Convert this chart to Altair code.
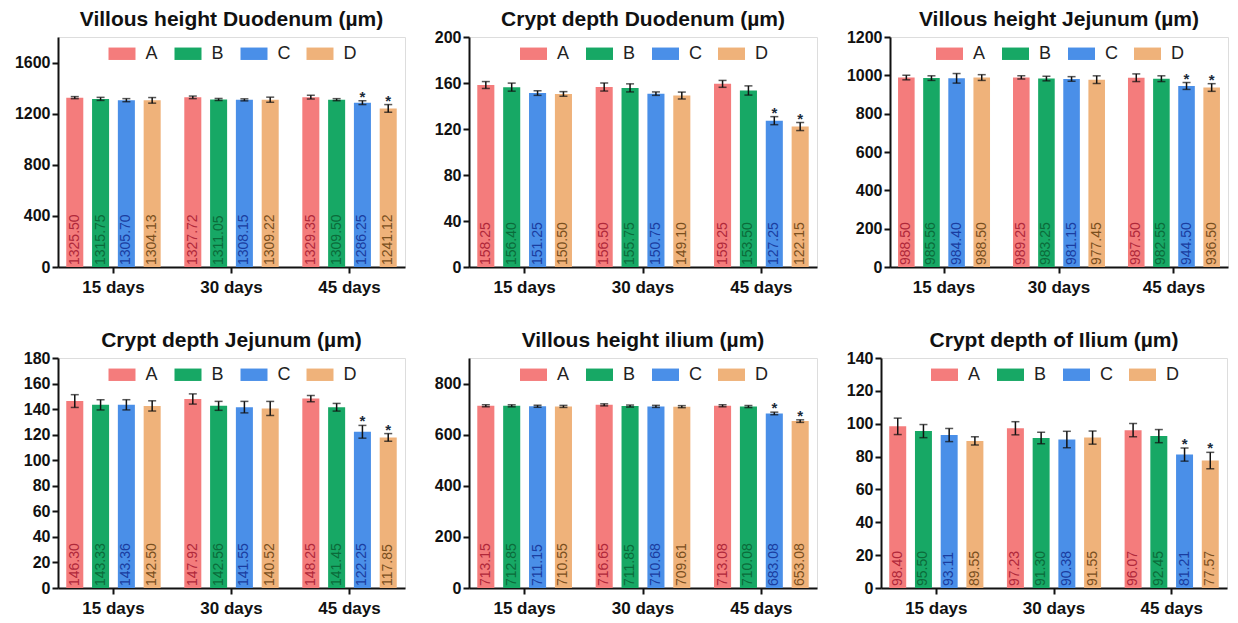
import altair as alt
import pandas as pd

days = ["15 days", "30 days", "45 days"]
groups = ["A", "B", "C", "D"]
bar_colors = ["#f47c7c", "#17a865", "#4a8fe8", "#efb27a"]
text_colors = ["#b0283a", "#0b6b3a", "#1a3da0", "#7a4f1e"]

titles = [
    "Villous height Duodenum (µm)",
    "Crypt depth Duodenum (µm)",
    "Villous height Jejunum (µm)",
    "Crypt depth Jejunum (µm)",
    "Villous height ilium (µm)",
    "Crypt depth of Ilium (µm)",
]

# means, ordered day-major: 15d A,B,C,D / 30d A,B,C,D / 45d A,B,C,D
means_vh_duo = [1325.50, 1315.75, 1305.70, 1304.13, 1327.72, 1311.05, 1308.15, 1309.22, 1329.35, 1309.50, 1286.25, 1241.12]
means_cd_duo = [158.25, 156.40, 151.25, 150.50, 156.50, 155.75, 150.75, 149.10, 159.25, 153.50, 127.25, 122.15]
means_vh_jej = [988.50, 985.56, 984.40, 988.50, 989.25, 983.25, 981.15, 977.45, 987.50, 982.55, 944.50, 936.50]
means_cd_jej = [146.30, 143.33, 143.36, 142.50, 147.92, 142.56, 141.55, 140.52, 148.25, 141.45, 122.25, 117.85]
means_vh_ile = [713.15, 712.85, 711.15, 710.55, 716.65, 711.85, 710.68, 709.61, 713.08, 710.08, 683.08, 653.08]
means_cd_ile = [98.40, 95.50, 93.11, 89.55, 97.23, 91.30, 90.38, 91.55, 96.07, 92.45, 81.21, 77.57]

errs_vh_duo = [8, 12, 12, 22, 10, 8, 8, 20, 15, 8, 15, 30]
errs_cd_duo = [3, 3.5, 2, 2, 3.5, 3.5, 1.5, 3, 3, 4, 3.5, 3.5]
errs_vh_jej = [12, 12, 25, 15, 8, 12, 12, 20, 20, 15, 18, 20]
errs_cd_jej = [5, 4, 4, 4, 4, 3.5, 4.5, 5.5, 2.5, 3, 5, 3]
errs_vh_ile = [4, 4, 4, 4, 4, 4, 4, 4, 4, 4, 5, 5]
errs_cd_ile = [5, 4, 4, 2.5, 4, 3.5, 5, 4, 4, 4, 4, 5]

significant = [False] * 10 + [True, True]

y_max = [1800, 200, 1200, 180, 900, 140]
y_ticks = [
    [0, 400, 800, 1200, 1600],
    [0, 40, 80, 120, 160, 200],
    [0, 200, 400, 600, 800, 1000, 1200],
    [0, 20, 40, 60, 80, 100, 120, 140, 160, 180],
    [0, 200, 400, 600, 800],
    [0, 20, 40, 60, 80, 100, 120, 140],
]
widths = [347, 348, 338, 347, 348, 346]

all_means = [means_vh_duo, means_cd_duo, means_vh_jej, means_cd_jej, means_vh_ile, means_cd_ile]
all_errs = [errs_vh_duo, errs_cd_duo, errs_vh_jej, errs_cd_jej, errs_vh_ile, errs_cd_ile]

FONT = "Liberation Sans"
H = 230


def panel(i):
    rows = []
    k = 0
    for d in days:
        for gi, g in enumerate(groups):
            m = all_means[i][k]
            e = all_errs[i][k]
            rows.append({
                "day": d, "group": g, "mean": m, "lo": m - e, "hi": m + e,
                "label": f"{m:.2f}", "tcolor": text_colors[gi], "base": 0,
                "sig": significant[k], "star": "*",
            })
            k += 1
    df = pd.DataFrame(rows)
    W = widths[i]
    yscale = alt.Scale(domain=[0, y_max[i]], nice=False, zero=True)
    yaxis = alt.Axis(values=y_ticks[i], tickCount=len(y_ticks[i]), format="d",
                     labelOverlap=False, title=None,
                     labelFontSize=16, labelFontWeight="bold",
                     labelColor="#111", labelFont=FONT, tickSize=6, tickWidth=2,
                     tickColor="#111", domainColor="#111", domainWidth=2,
                     grid=False, labelPadding=2)
    base = alt.Chart(df).encode(
        x=alt.X("day:N", sort=days, title=None,
                scale=alt.Scale(paddingInner=0.2, paddingOuter=0.07),
                axis=alt.Axis(labelAngle=0, labelFontSize=17, labelFontWeight="bold",
                              labelColor="#111", labelFont=FONT, tickSize=6, tickWidth=2,
                              tickColor="#111", domainColor="#111", domainWidth=2,
                              labelPadding=6)),
        xOffset=alt.XOffset("group:N", sort=groups,
                            scale=alt.Scale(paddingInner=0.34, paddingOuter=0)),
    )
    bars = base.mark_bar().encode(
        y=alt.Y("mean:Q", scale=yscale, title=None, axis=yaxis),
        color=alt.Color("group:N", sort=groups,
                        scale=alt.Scale(domain=groups, range=bar_colors),
                        legend=alt.Legend(
                            title=None, orient="none", direction="horizontal",
                            legendX=(W - 246) / 2, legendY=3,
                            symbolType="M-1,-0.46H1V0.46H-1Z", symbolSize=729,
                            symbolStrokeWidth=0, symbolOpacity=1,
                            labelFontSize=18, labelFont=FONT, labelColor="#222",
                            labelOffset=10, columnPadding=16, padding=0)),
    )
    rule = base.mark_rule(color="#111", strokeWidth=1.5).encode(
        y=alt.Y("lo:Q", scale=yscale, title=None, axis=yaxis), y2="hi:Q")
    cap_hi = base.mark_tick(color="#111", thickness=1.5, size=8).encode(
        y=alt.Y("hi:Q", scale=yscale, title=None, axis=yaxis))
    cap_lo = base.mark_tick(color="#111", thickness=1.5, size=8).encode(
        y=alt.Y("lo:Q", scale=yscale, title=None, axis=yaxis))
    labels = base.mark_text(angle=270, align="left", baseline="middle",
                            fontSize=14, font=FONT, dx=2).encode(
        y=alt.Y("base:Q", scale=yscale, title=None, axis=yaxis),
        text="label:N",
        color=alt.Color("tcolor:N", scale=None),
    )
    stars = base.mark_text(fontSize=15, font=FONT, fontWeight="bold", baseline="alphabetic",
                           dy=1, color="#1a2a3a").encode(
        y=alt.Y("hi:Q", scale=yscale, title=None, axis=yaxis), text="star:N",
    ).transform_filter(alt.datum.sig)
    # the top tick label pokes above the frame when it sits at the domain max;
    # compensate so every title lands at the same height
    title_offset = -1 + (8 if y_ticks[i][-1] < y_max[i] else 0)
    return alt.layer(bars, rule, cap_hi, cap_lo, labels, stars).properties(
        width=W, height=H,
        title=alt.TitleParams(titles[i], fontSize=21, font=FONT, fontWeight="bold",
                              color="#111", anchor="middle", offset=title_offset),
    )


chart = alt.concat(*[panel(i) for i in range(6)], columns=3, align="none",
                   spacing={"row": 33, "column": 27}).resolve_scale(
    y="independent", x="independent", color="independent", xOffset="independent"
).resolve_legend(color="independent").properties(
    padding={"left": 5, "top": 0, "right": 0, "bottom": 0}
).configure_view(stroke="#111", strokeWidth=2).configure_axisY(
    labelOverlap=False
).configure(background="white")

chart.save("out.html", embed_options={"renderer": "svg", "actions": False})
